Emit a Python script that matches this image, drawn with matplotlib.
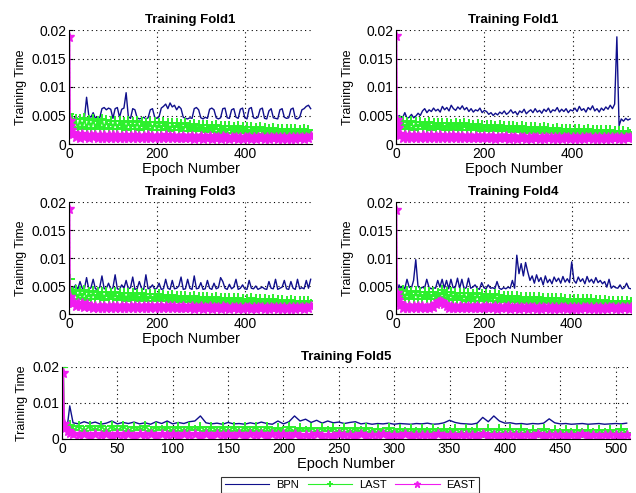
import numpy as np
import matplotlib
matplotlib.use('Agg')
from matplotlib import pyplot as plt

plt.rcParams['font.family'] = ['Liberation Sans', 'DejaVu Sans']

# epochs sampled: first few one by one, then every 5th epoch
HEAD = [1, 2, 3, 5, 7]

def epochs(last):
    return HEAD + list(range(10, last + 1, 5))

# training time per epoch in units of 1e-4 s
# --- Training Fold1 (top left), 550 epochs
bpn_f1a = [44, 42, 46, 45, 43,
           44, 47, 45, 43, 46, 44, 82, 50, 47, 55, 45, 48, 46, 62, 64, 60, 63, 61, 45,
           62, 64, 47, 61, 63, 90, 48, 45, 62, 60, 46, 44, 45, 47, 44, 46, 60, 62, 47, 45,
           48, 63, 66, 70, 62, 72, 65, 68, 60, 66, 62, 47, 45, 44, 46, 45, 62, 64, 60, 46,
           44, 47, 45, 61, 63, 60, 46, 44, 46, 62, 63, 46, 45, 60, 62, 47, 45, 61, 63, 46,
           44, 62, 64, 46, 45, 47, 61, 63, 45, 44, 58, 62, 46, 45, 44, 60, 62, 47, 45, 46,
           61, 63, 45, 44, 47, 60, 62, 66, 68, 62]
last_f1a = [52, 38, 34, 30, 42,
            28, 44, 27, 43, 29, 45, 26, 42, 28, 44, 27, 41, 29, 43, 26, 42, 28, 40, 27,
            41, 26, 40, 28, 39, 25, 41, 27, 38, 26, 40, 25, 39, 27, 37, 26, 38, 24, 39, 25,
            37, 24, 38, 26, 36, 23, 37, 25, 36, 24, 35, 23, 36, 22, 34, 24, 35, 22, 33, 23,
            34, 21, 33, 22, 32, 21, 33, 20, 32, 22, 31, 20, 32, 19, 30, 21, 31, 19, 30, 20,
            29, 18, 30, 19, 28, 18, 29, 17, 28, 19, 27, 17, 28, 16, 27, 18, 26, 16, 27, 17,
            26, 16, 27, 15, 25, 16, 26, 15, 24, 18]
east_f1a = [188, 40, 32, 25, 20,
            17, 12, 16, 11, 17, 12, 16, 11, 15, 12, 16, 10, 15, 11, 16, 10, 15, 11, 15,
            10, 15, 11, 14, 10, 15, 11, 14, 10, 15, 10, 14, 11, 14, 10, 15, 10, 14, 11, 14,
            10, 14, 10, 15, 11, 14, 10, 14, 10, 13, 11, 14, 10, 13, 10, 14, 9, 13, 10, 14,
            9, 13, 10, 14, 9, 13, 10, 13, 9, 14, 10, 13, 9, 13, 10, 12, 9, 13, 9, 12,
            10, 13, 9, 12, 9, 13, 10, 12, 9, 13, 9, 12, 10, 12, 9, 13, 9, 12, 9, 12,
            9, 13, 9, 12, 10, 12, 9, 13, 10, 14]

# --- Training Fold1 (top right), 530 epochs
bpn_f1b = [45, 47, 44, 46, 50,
           48, 46, 55, 45, 47, 52, 46, 49, 54, 50, 58, 62, 55, 60, 57, 63, 58, 61, 56,
           66, 60, 64, 58, 68, 62, 59, 65, 61, 67, 60, 64, 57, 62, 56, 60, 58, 63, 55, 59,
           57, 52, 55, 50, 54, 51, 56, 53, 58, 52, 55, 60, 54, 57, 51, 58, 55, 61, 53, 57,
           60, 55, 62, 56, 59, 54, 61, 57, 63, 55, 60, 58, 64, 56, 61, 57, 62, 55, 60, 58,
           63, 57, 66, 59, 62, 56, 64, 60, 67, 58, 62, 56, 63, 59, 65, 61, 68, 62, 70, 188,
           32, 44, 40, 45, 42, 44]
last_f1b = [48, 36, 32, 28, 40,
            27, 40, 26, 39, 28, 40, 25, 38, 27, 39, 26, 37, 28, 38, 25, 37, 27, 36, 26,
            37, 25, 36, 27, 35, 24, 37, 26, 35, 25, 36, 24, 35, 26, 34, 24, 35, 23, 34, 25,
            33, 23, 34, 24, 32, 22, 33, 23, 32, 22, 31, 21, 32, 22, 30, 21, 31, 20, 30, 21,
            30, 20, 29, 21, 28, 19, 29, 20, 28, 19, 27, 19, 28, 18, 27, 19, 27, 18, 26, 18,
            26, 17, 27, 18, 25, 17, 26, 16, 25, 17, 24, 16, 25, 16, 24, 17, 24, 16, 23, 16,
            23, 15, 22, 16, 21, 17]
east_f1b = [190, 42, 35, 28, 18,
            15, 11, 16, 10, 15, 11, 16, 10, 14, 11, 15, 10, 14, 11, 15, 10, 14, 10, 15,
            10, 14, 11, 14, 10, 15, 10, 14, 11, 14, 10, 14, 10, 13, 11, 14, 10, 13, 10, 14,
            10, 13, 10, 14, 9, 13, 10, 13, 10, 14, 9, 13, 10, 13, 9, 13, 10, 12, 9, 13,
            9, 13, 10, 12, 9, 13, 9, 12, 10, 13, 9, 12, 9, 13, 9, 12, 10, 12, 9, 12,
            9, 12, 9, 13, 9, 12, 10, 12, 9, 12, 9, 13, 9, 12, 9, 12, 9, 12, 10, 12,
            9, 12, 9, 13, 10, 13]

# --- Training Fold3 (middle left), 550 epochs
bpn_f3 = [46, 44, 45, 43, 47,
          45, 52, 44, 58, 46, 45, 65, 44, 47, 62, 45, 44, 48, 68, 45, 46, 55, 44, 47,
          70, 45, 44, 52, 46, 60, 45, 47, 66, 44, 45, 58, 46, 44, 70, 45, 47, 52, 44, 46,
          55, 44, 45, 62, 46, 44, 60, 45, 46, 50, 66, 44, 45, 62, 46, 44, 68, 45, 46, 56,
          44, 45, 60, 46, 44, 55, 45, 47, 65, 58, 46, 44, 53, 45, 48, 62, 44, 46, 52, 45,
          44, 60, 46, 45, 50, 44, 46, 48, 45, 44, 58, 46, 45, 62, 44, 46, 48, 60, 45, 44,
          58, 46, 44, 62, 45, 47, 45, 60, 46, 62]
last_f3 = [45, 62, 38, 34, 40,
           27, 42, 26, 41, 28, 42, 25, 40, 27, 41, 26, 40, 28, 39, 25, 40, 27, 38, 26,
           39, 25, 38, 27, 37, 24, 38, 26, 37, 25, 36, 24, 37, 26, 35, 24, 36, 23, 35, 25,
           35, 23, 34, 24, 33, 22, 34, 23, 33, 22, 32, 21, 33, 22, 31, 21, 32, 20, 31, 21,
           30, 20, 31, 21, 29, 19, 30, 20, 29, 19, 28, 19, 29, 18, 28, 19, 28, 18, 27, 18,
           27, 17, 28, 18, 26, 17, 27, 16, 26, 17, 25, 16, 26, 16, 25, 17, 25, 16, 24, 16,
           25, 15, 24, 16, 23, 15, 24, 16, 23, 17]
east_f3 = [188, 30, 25, 22, 20,
           20, 14, 19, 15, 20, 13, 18, 12, 15, 11, 15, 10, 14, 11, 15, 10, 14, 11, 14,
           10, 15, 11, 14, 10, 15, 11, 14, 10, 15, 10, 14, 11, 14, 10, 15, 10, 14, 11, 14,
           10, 14, 10, 15, 11, 14, 10, 14, 10, 13, 11, 14, 10, 13, 10, 14, 9, 13, 10, 14,
           9, 13, 10, 14, 9, 13, 10, 13, 9, 14, 10, 13, 9, 13, 10, 12, 9, 13, 9, 12,
           10, 13, 9, 12, 9, 13, 10, 12, 9, 13, 9, 12, 10, 12, 9, 13, 9, 12, 9, 12,
           9, 13, 9, 12, 10, 12, 9, 13, 10, 14]

# --- Training Fold4 (middle right), 535 epochs
bpn_f4 = [48, 44, 46, 45, 52,
          46, 50, 45, 62, 48, 46, 60, 97, 50, 45, 48, 46, 62, 48, 45, 47, 46, 60, 48,
          62, 46, 60, 45, 62, 47, 48, 64, 46, 62, 45, 47, 64, 46, 48, 52, 46, 44, 56, 47,
          45, 52, 46, 47, 45, 58, 46, 44, 47, 45, 48, 46, 60, 46, 105, 72, 90, 68, 92, 75,
          60, 68, 55, 70, 58, 65, 52, 68, 56, 62, 54, 66, 58, 64, 55, 67, 57, 63, 56, 93,
          60, 55, 66, 58, 63, 54, 67, 57, 62, 55, 65, 56, 60, 54, 58, 48, 62, 46, 50, 47,
          46, 52, 45, 47, 55, 46, 45]
last_f4 = [40, 44, 36, 32, 38,
           28, 42, 27, 41, 28, 40, 26, 41, 27, 40, 26, 39, 28, 40, 26, 39, 27, 38, 30,
           42, 29, 40, 27, 39, 25, 38, 26, 37, 25, 38, 24, 37, 26, 36, 24, 37, 23, 36, 25,
           35, 23, 34, 24, 35, 22, 34, 23, 33, 22, 33, 21, 32, 22, 32, 21, 31, 20, 31, 21,
           31, 20, 30, 21, 30, 19, 29, 20, 29, 19, 28, 19, 28, 18, 28, 19, 27, 18, 27, 18,
           27, 17, 27, 18, 26, 17, 26, 16, 26, 17, 25, 16, 25, 16, 25, 17, 24, 16, 24, 16,
           24, 15, 23, 16, 23, 15, 22]
east_f4 = [185, 38, 30, 25, 20,
           16, 11, 15, 10, 15, 11, 14, 10, 14, 11, 14, 10, 13, 11, 14, 12, 18, 22, 24,
           22, 17, 14, 10, 14, 11, 13, 10, 14, 10, 13, 11, 14, 10, 13, 10, 14, 11, 13, 10,
           14, 10, 13, 10, 14, 9, 13, 10, 13, 10, 14, 9, 13, 10, 13, 9, 13, 10, 12, 9,
           13, 10, 12, 9, 13, 9, 12, 10, 13, 9, 12, 9, 13, 9, 12, 10, 12, 9, 12, 9,
           12, 9, 13, 9, 12, 10, 12, 9, 12, 9, 13, 9, 12, 9, 12, 9, 12, 10, 12, 9,
           12, 9, 12, 10, 13, 9, 12]

# --- Training Fold5 (bottom), 510 epochs
bpn_f5 = [110, 40, 42, 41, 92,
          45, 42, 48, 43, 47, 41, 44, 50, 42, 46, 43, 47, 42, 45, 41, 48, 43, 50, 42,
          46, 43, 48, 50, 64, 45, 42, 44, 41, 46, 42, 43, 41, 45, 42, 47, 43, 41, 50, 42,
          48, 64, 50, 55, 46, 52, 44, 50, 45, 47, 43, 46, 48, 42, 44, 41, 43, 42, 44, 41,
          43, 42, 41, 43, 42, 44, 41, 42, 45, 52, 46, 43, 42, 41, 44, 60, 48, 64, 50, 44,
          45, 42, 43, 41, 43, 42, 44, 56, 45, 42, 43, 41, 42, 43, 41, 42, 43, 41, 42, 43,
          42, 44]
last_f5 = [200, 40, 35, 32, 38,
           24, 36, 23, 35, 25, 36, 22, 35, 24, 35, 23, 34, 25, 35, 22, 34, 24, 33, 23,
           34, 22, 33, 24, 34, 22, 33, 23, 32, 22, 33, 21, 32, 23, 32, 21, 33, 22, 31, 21,
           32, 21, 31, 22, 31, 20, 31, 21, 30, 20, 31, 20, 30, 21, 30, 20, 29, 20, 30, 19,
           29, 20, 29, 19, 28, 20, 29, 19, 28, 19, 28, 18, 28, 19, 27, 18, 28, 18, 27, 18,
           27, 17, 27, 18, 26, 17, 27, 17, 26, 17, 26, 16, 26, 17, 25, 16, 26, 16, 25, 16,
           27, 18]
east_f5 = [182, 42, 30, 22, 16,
           14, 10, 14, 9, 13, 10, 14, 9, 13, 10, 14, 9, 13, 10, 13, 9, 14, 10, 13,
           9, 13, 10, 13, 9, 14, 9, 13, 10, 13, 9, 13, 9, 14, 10, 13, 9, 13, 10, 13,
           9, 13, 9, 12, 10, 13, 9, 12, 9, 13, 10, 12, 9, 13, 9, 12, 10, 13, 9, 12,
           9, 13, 9, 12, 10, 12, 9, 13, 9, 12, 9, 12, 10, 12, 9, 13, 9, 12, 9, 12,
           10, 12, 9, 12, 9, 13, 9, 12, 10, 12, 9, 12, 9, 13, 9, 12, 9, 12, 10, 12,
           9, 12]

series_names = ['BPN', 'LAST', 'EAST']
titles = ['Training Fold1', 'Training Fold1', 'Training Fold3', 'Training Fold4', 'Training Fold5']
last_epoch = [550, 530, 550, 535, 510]
x_max = [553, 532, 553, 535, 513]
small_xticks = [0, 200, 400]
big_xticks = list(range(0, 501, 50))
small_yticks = [0, 0.005, 0.01, 0.015, 0.02]
small_yticklabels = ['0', '0.005', '0.01', '0.015', '0.02']
big_yticks = [0, 0.01, 0.02]
big_yticklabels = ['0', '0.01', '0.02']

folds = [(bpn_f1a, last_f1a, east_f1a), (bpn_f1b, last_f1b, east_f1b),
         (bpn_f3, last_f3, east_f3), (bpn_f4, last_f4, east_f4),
         (bpn_f5, last_f5, east_f5)]

W, H = 636, 493
def rect(l, r, t, b):
    return [l / W, 1 - b / H, (r - l) / W, (b - t) / H]

boxes = [rect(69, 312, 30, 144), rect(396, 631, 30, 144),
         rect(69, 312, 202, 314), rect(396, 631, 202, 314),
         rect(62, 630, 367, 439)]

BLUE = '#10108c'
GREEN = '#2cf02c'
PINK = '#f01cf0'

fig = plt.figure(figsize=(W / 100, H / 100), dpi=100)
handles = []
for i, (box, data) in enumerate(zip(boxes, folds)):
    ax = fig.add_axes(box)
    ep = epochs(last_epoch[i])
    for v in data:
        assert len(v) == len(ep), (i, len(v), len(ep))
    bpn, last, east = [np.array(v) * 1e-4 for v in data]
    h1, = ax.plot(ep, bpn, color=BLUE, lw=1.0)
    h2, = ax.plot(ep, last, color=GREEN, lw=1.4, marker='+', ms=7, mew=1.4)
    h3, = ax.plot(ep, east, color=PINK, lw=1.4, marker='*', ms=7, mew=1.0)
    handles = [h1, h2, h3]

    ax.set_xlim(0, x_max[i])
    ax.set_ylim(0, 0.02)
    if i < 4:
        ax.set_xticks(small_xticks)
        ax.set_yticks(small_yticks)
        ax.set_yticklabels(small_yticklabels)
    else:
        ax.set_xticks(big_xticks)
        ax.set_yticks(big_yticks)
        ax.set_yticklabels(big_yticklabels)
    ax.spines['top'].set_visible(False)
    ax.spines['right'].set_visible(False)
    ax.tick_params(direction='in', length=3, pad=2, labelsize=10)
    ax.grid(True, linestyle=(0, (1, 3)), color='black', linewidth=0.8)
    ax.set_axisbelow(True)
    ax.set_title(titles[i], fontsize=9.5, fontweight='bold', pad=5)
    ax.set_xlabel('Epoch Number', fontsize=10.5, labelpad=1)
    ax.set_ylabel('Training Time', fontsize=9, labelpad=3)

leg = fig.legend(handles, series_names, loc='upper center',
                 bbox_to_anchor=(350 / W, 1 - 471 / H), ncol=3, fontsize=8,
                 frameon=True, fancybox=False, edgecolor='black',
                 handlelength=4, columnspacing=0.8, handletextpad=0.6,
                 borderpad=0.3)
leg.get_frame().set_linewidth(0.8)
for lh in leg.get_lines():
    lh.set_markersize(5)
    lh.set_linewidth(0.8)

fig.savefig('out.png', dpi=100)
